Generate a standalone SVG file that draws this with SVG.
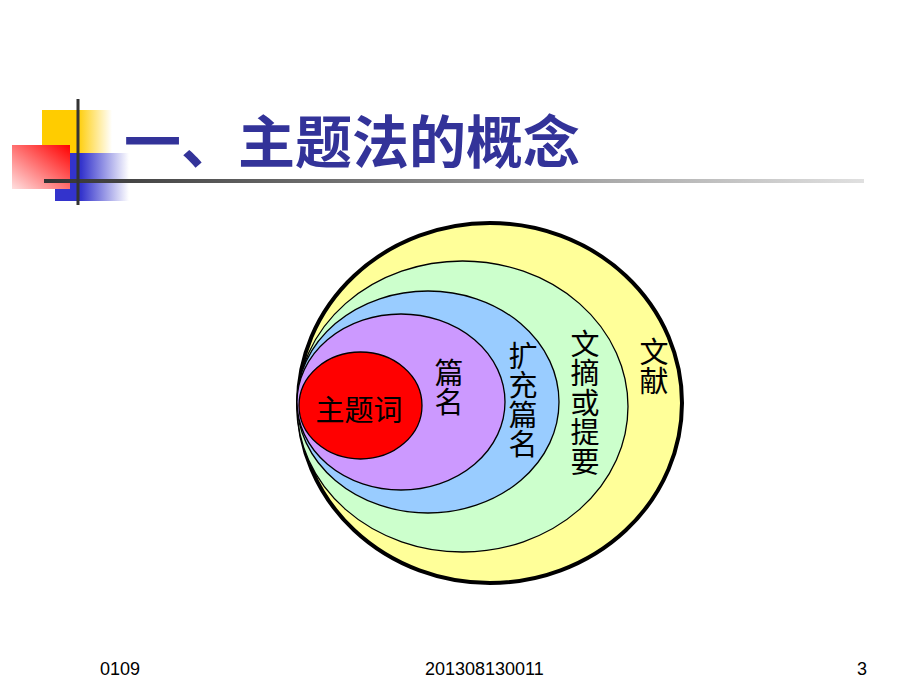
<svg xmlns="http://www.w3.org/2000/svg" width="920" height="690" viewBox="0 0 920 690">
<defs>
<linearGradient id="gY" x1="0" y1="0" x2="1" y2="0"><stop offset="0" stop-color="#FFCC00"/><stop offset="0.5" stop-color="#FFCC00"/><stop offset="1" stop-color="#FFFFFF"/></linearGradient>
<linearGradient id="gR" x1="1" y1="0" x2="0" y2="1"><stop offset="0" stop-color="#FF0000"/><stop offset="1" stop-color="#FFE0E0"/></linearGradient>
<linearGradient id="gB" x1="0" y1="0" x2="1" y2="0"><stop offset="0" stop-color="#3333CC"/><stop offset="0.35" stop-color="#3333CC"/><stop offset="1" stop-color="#FFFFFF"/></linearGradient>
<linearGradient id="gL" x1="0" y1="0" x2="1" y2="0"><stop offset="0" stop-color="#333333"/><stop offset="1" stop-color="#E0E0E0"/></linearGradient>
<style>
.lbl{font-family:"Noto Sans CJK SC","Noto Sans",sans-serif;font-size:29px;fill:#000;text-anchor:middle}
.vl{font-family:"Noto Sans CJK SC","Noto Sans",sans-serif;font-size:29px;fill:#000;writing-mode:vertical-rl;text-anchor:start}
.ring{stroke:#000;stroke-width:1.3}
.foot{font-family:"Liberation Sans","DejaVu Sans",sans-serif;font-size:18px;fill:#000}
</style>
</defs>
<rect width="920" height="690" fill="#FFFFFF"/>
<g id="decoration">
<rect x="42" y="110" width="70" height="43" fill="url(#gY)"/>
<rect x="55" y="153" width="74" height="48" fill="url(#gB)"/>
<rect x="12" y="145" width="58" height="44" fill="url(#gR)"/>
<rect x="44" y="179" width="820" height="4" fill="url(#gL)"/>
<rect x="76.5" y="99" width="3" height="106" fill="#333333"/>
</g>
<g id="title">
<text x="124" y="163" font-family="'Noto Sans CJK SC','Noto Sans',sans-serif" font-size="57" font-weight="bold" fill="#333399">一、主题法的概念</text>
</g>
<g id="node-wenxian">
<ellipse cx="490" cy="403" rx="192" ry="180" fill="#FFFF99" stroke="#000" stroke-width="4"/>
<text class="vl" x="654" y="337.5">文献</text>
</g>
<g id="node-wenzhai">
<ellipse class="ring" cx="462.5" cy="406.5" rx="165.5" ry="145.5" fill="#CCFFCC"/>
<text class="vl" x="585" y="329.5" letter-spacing="0.4">文摘或提要</text>
</g>
<g id="node-kuochong">
<ellipse class="ring" cx="428" cy="402" rx="131" ry="111" fill="#99CCFF"/>
<text class="vl" x="523" y="341.5" letter-spacing="0.4">扩充篇名</text>
</g>
<g id="node-pianming">
<ellipse class="ring" cx="401" cy="402" rx="104" ry="88" fill="#CC99FF"/>
<text class="vl" x="449" y="358.5">篇名</text>
</g>
<g id="node-zhutici">
<ellipse class="ring" cx="360.5" cy="405.5" rx="61.5" ry="53.5" fill="#FF0000"/>
<text class="lbl" x="359" y="421">主题词</text>
</g>
<g id="connectors"></g>
<g id="footer">
<text class="foot" x="100" y="675">0109</text>
<text class="foot" x="425" y="675">201308130011</text>
<text class="foot" x="857" y="675">3</text>
</g>
</svg>
